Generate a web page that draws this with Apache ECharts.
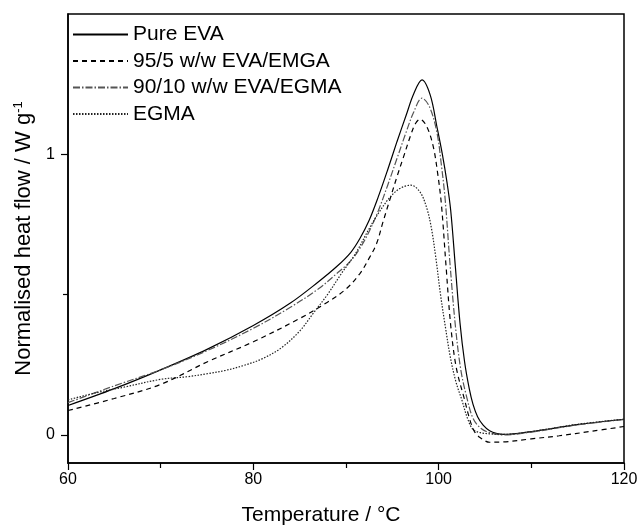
<!DOCTYPE html>
<html>
<head>
<meta charset="utf-8">
<script src="https://cdn.jsdelivr.net/npm/echarts@6/dist/echarts.min.js"></script>
<style>
  html, body { margin: 0; padding: 0; background: #fff; }
  #chart { width: 638px; height: 525px; }
</style>
</head>
<body>
<div id="chart"></div>
<script>
// DSC cooling traces: [temperature °C, normalised heat flow W/g]
const pureEVA = [
  [60, 0.105], [65, 0.165], [70, 0.232], [75, 0.305], [80, 0.39], [84, 0.47],
  [87, 0.545], [89, 0.60], [90.5, 0.65], [91.5, 0.70], [92.5, 0.765], [93.5, 0.85],
  [94.5, 0.945], [95.5, 1.045], [96.5, 1.14], [97.3, 1.215], [98.2, 1.265],
  [99.1, 1.21], [99.8, 1.10], [100.4, 1.0], [100.9, 0.90], [101.3, 0.80],
  [101.8, 0.60], [102.3, 0.40], [102.8, 0.26], [103.3, 0.165], [103.7, 0.11],
  [104.2, 0.065], [104.8, 0.035], [105.5, 0.015], [106.3, 0.005], [107, 0.002],
  [110, 0.012], [115, 0.037], [120, 0.056]
];
const blend95_5 = [
  [60, 0.087], [65, 0.13], [70, 0.18], [75, 0.26], [80, 0.332], [85, 0.415],
  [88, 0.473], [90, 0.52], [91.5, 0.575], [92.5, 0.63], [93.3, 0.682], [94.0, 0.76],
  [94.7, 0.835], [95.5, 0.92], [96.2, 0.99], [97.0, 1.07], [97.5, 1.11], [98.0, 1.125],
  [98.7, 1.10], [99.4, 1.03], [99.9, 0.93], [100.3, 0.82], [100.8, 0.60],
  [101.3, 0.39], [101.9, 0.24], [102.8, 0.125], [103.4, 0.05], [103.9, 0.01],
  [104.5, -0.01], [105.5, -0.026], [107, -0.025], [110, -0.014], [113, -0.003],
  [116.5, 0.013], [120, 0.03]
];
const blend90_10 = [
  [60, 0.115], [65, 0.175], [70, 0.232], [75, 0.30], [80, 0.38], [84, 0.455],
  [87, 0.52], [89, 0.575], [90.5, 0.62], [91.5, 0.665], [92.5, 0.725], [93.5, 0.80],
  [94.5, 0.89], [95.5, 0.985], [96.5, 1.08], [97.3, 1.15], [98.2, 1.20], [99.0, 1.17],
  [99.8, 1.08], [100.3, 0.96], [100.7, 0.84], [101.2, 0.62], [101.8, 0.39],
  [102.4, 0.23], [103.1, 0.125], [103.7, 0.06], [104.5, 0.025], [105.5, 0.008],
  [107, 0.0], [110, 0.01], [115, 0.036], [120, 0.055]
];
const egma = [
  [60, 0.125], [63, 0.15], [66, 0.17], [70, 0.198], [73, 0.208], [75, 0.218],
  [77, 0.23], [79, 0.248], [81, 0.272], [83, 0.31], [85, 0.37], [86.5, 0.435],
  [88, 0.50], [89.5, 0.575], [91, 0.645], [92.5, 0.735], [93.5, 0.79], [94.7, 0.845],
  [95.8, 0.878], [97.0, 0.89], [98.0, 0.865], [98.7, 0.81], [99.2, 0.74],
  [99.7, 0.63], [100.2, 0.50], [100.7, 0.39], [101.3, 0.27], [101.9, 0.185],
  [102.5, 0.125], [103.1, 0.06], [103.7, 0.02], [104.5, 0.008], [105.5, 0.004],
  [107, 0.002], [110, 0.012], [115, 0.038], [120, 0.056]
];

const seriesNames = ['Pure EVA', '95/5 w/w EVA/EMGA', '90/10 w/w EVA/EGMA', 'EGMA'];
const xTicks = [60, 80, 100, 120];
const yTicks = [0, 1];
const yMinorTicks = [0.5];

const font = 'Liberation Sans, Arial, Helvetica, sans-serif';

function curve(name, data, color, type, width) {
  return {
    name, type: 'line', data,
    symbol: 'none', smooth: 0.35,
    lineStyle: { color, width, type },
    itemStyle: { color },
    z: 3
  };
}

const chart = echarts.init(document.getElementById('chart'), null, { renderer: 'canvas' });
chart.setOption({
  animation: false,
  backgroundColor: '#fff',
  grid: {
    left: 68, right: 14, top: 14, bottom: 62,
    outerBoundsMode: 'none', containLabel: false,
    show: true, borderColor: '#000', borderWidth: 1.5, backgroundColor: 'transparent'
  },
  legend: {
    orient: 'vertical', left: 67, top: 19,
    itemWidth: 55, itemHeight: 14, itemGap: 5.5,
    itemStyle: { opacity: 0 },
    textStyle: { fontFamily: font, fontSize: 21, color: '#000', lineHeight: 21 },
    data: seriesNames
  },
  xAxis: {
    type: 'value', min: 60, max: 120, interval: 20,
    name: 'Temperature / °C', nameLocation: 'middle', nameGap: 42,
    nameTextStyle: { fontFamily: font, fontSize: 21, color: '#000', padding: [0, 50, 0, 0] },
    axisLine: { show: true, onZero: false, lineStyle: { color: '#000', width: 1.5 } },
    axisTick: { show: true, length: 7, lineStyle: { color: '#000', width: 1.2 } },
    minorTick: { show: true, splitNumber: 2, length: 5, lineStyle: { color: '#000', width: 1.2 } },
    axisLabel: { fontFamily: font, fontSize: 16, color: '#000', margin: 9,
      customValues: xTicks },
    splitLine: { show: false }
  },
  yAxis: [{
    type: 'value', min: -0.1, max: 1.5,
    name: 'Normalised heat flow / W g{sup|-1}', nameLocation: 'middle', nameGap: 33,
    nameRotate: 90,
    nameTextStyle: {
      fontFamily: font, fontSize: 22, color: '#000',
      rich: { sup: { fontFamily: font, fontSize: 13, color: '#000', verticalAlign: 'top', padding: [0, 0, 10, 0] } }
    },
    axisLine: { show: true, onZero: false, lineStyle: { color: '#000', width: 1.5 } },
    axisTick: { show: true, length: 7, customValues: yTicks, lineStyle: { color: '#000', width: 1.2 } },
    axisLabel: { fontFamily: font, fontSize: 16, color: '#000', margin: 13,
      customValues: yTicks, formatter: v => String(v) },
    splitLine: { show: false }
  }, {
    // minor tick mark on the left axis
    type: 'value', min: -0.1, max: 1.5, position: 'left',
    axisLine: { show: false, onZero: false },
    axisTick: { show: true, length: 5, customValues: yMinorTicks, lineStyle: { color: '#000', width: 1.2 } },
    axisLabel: { show: false },
    splitLine: { show: false }
  }],
  series: [
    curve(seriesNames[0], pureEVA, '#000', 'solid', 1.2),
    curve(seriesNames[1], blend95_5, '#000', [5, 4], 1.2),
    curve(seriesNames[2], blend90_10, '#555', [7, 2, 1.5, 2], 1.2),
    curve(seriesNames[3], egma, '#222', [1.5, 1.5], 1.2)
  ]
});
</script>
</body>
</html>
